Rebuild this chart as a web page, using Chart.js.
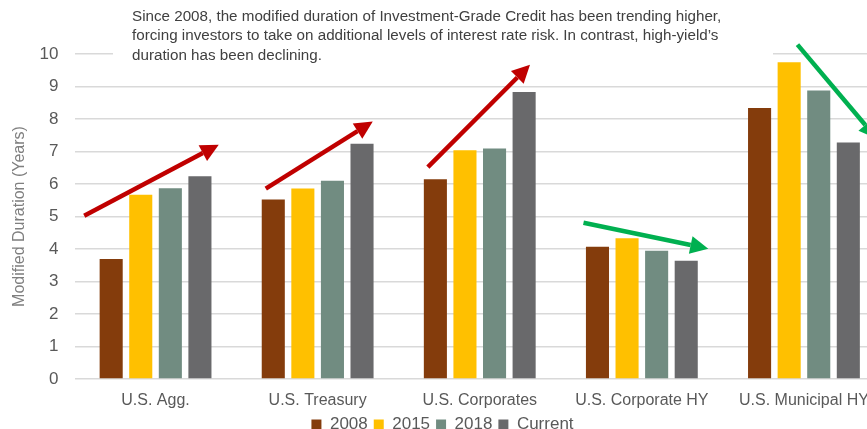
<!DOCTYPE html>
<html>
<head>
<meta charset="utf-8">
<script src="https://cdn.jsdelivr.net/npm/chart.js@4"></script>
<style>
  html, body { margin: 0; padding: 0; background: #fff; overflow: hidden; }
  #wrap { width: 920px; height: 429px; }
</style>
</head>
<body>
<div id="wrap"><canvas id="chart"></canvas></div>
<script>
const categories = ['U.S. Agg.', 'U.S. Treasury', 'U.S. Corporates', 'U.S. Corporate HY', 'U.S. Municipal HY'];
const seriesNames = ['2008', '2015', '2018', 'Current'];
const dur2008 = [3.69, 5.52, 6.15, 4.07, 8.34];
const dur2015 = [5.67, 5.86, 7.04, 4.33, 9.75];
const dur2018 = [5.87, 6.10, 7.09, 3.95, 8.88];
const durCurrent = [6.24, 7.24, 8.83, 3.64, 7.28];
const yTicks = [0, 1, 2, 3, 4, 5, 6, 7, 8, 9, 10];

const noteLines = [
  'Since 2008, the modified duration of Investment-Grade Credit has been trending higher,',
  'forcing investors to take on additional levels of interest rate risk. In contrast, high-yield\u2019s',
  'duration has been declining.'
];

// trend arrows, in (category index, years)
const trendFrom = [[-0.44, 5.02], [0.68, 5.86], [1.68, 6.52], [2.64, 4.81], [3.96, 10.29]];
const trendTo = [[0.39, 7.21], [1.34, 7.92], [2.31, 9.67], [3.41, 4.01], [4.45, 7.39]];
const trendUp = [true, true, true, false, false];

const colors = ['#843c0c', '#ffc000', '#718c81', '#69696b'];
const seriesValues = [dur2008, dur2015, dur2018, durCurrent];

const notePlugin = {
  id: 'note',
  beforeDatasetsDraw(chart) {
    const ctx = chart.ctx;
    ctx.save();
    ctx.fillStyle = '#fff';
    ctx.fillRect(113, 0, 660, 62);
    ctx.fillStyle = '#404040';
    ctx.font = '15.2px "Liberation Sans", Arial, sans-serif';
    ctx.textBaseline = 'middle';
    noteLines.forEach((line, i) => ctx.fillText(line, 132, 16.5 + i * 19.5));
    ctx.restore();
  },
  afterDatasetsDraw(chart) {
    const { ctx, scales: { x, y } } = chart;
    ctx.save();
    trendFrom.forEach((from, i) => {
      const x0 = x.getPixelForValue(from[0]), y0 = y.getPixelForValue(from[1]);
      const x1 = x.getPixelForValue(trendTo[i][0]), y1 = y.getPixelForValue(trendTo[i][1]);
      const ang = Math.atan2(y1 - y0, x1 - x0);
      const head = 18, half = 9;
      const bx = x1 - head * Math.cos(ang), by = y1 - head * Math.sin(ang);
      const c = trendUp[i] ? '#c00000' : '#00b050';
      ctx.strokeStyle = c;
      ctx.fillStyle = c;
      ctx.lineWidth = 4.5;
      ctx.beginPath();
      ctx.moveTo(x0, y0);
      ctx.lineTo(bx, by);
      ctx.stroke();
      ctx.beginPath();
      ctx.moveTo(x1, y1);
      ctx.lineTo(bx - half * Math.sin(ang), by + half * Math.cos(ang));
      ctx.lineTo(bx + half * Math.sin(ang), by - half * Math.cos(ang));
      ctx.closePath();
      ctx.fill();
    });
    ctx.restore();
  }
};

new Chart(document.getElementById('chart'), {
  type: 'bar',
  data: {
    labels: categories,
    datasets: seriesNames.map((name, i) => ({
      label: name,
      data: seriesValues[i],
      backgroundColor: colors[i],
      categoryPercentage: 0.73,
      barPercentage: 0.78
    }))
  },
  options: {
    responsive: true,
    maintainAspectRatio: false,
    animation: false,
    layout: { padding: { top: 54, right: 35, bottom: -14, left: 0 } },
    plugins: {
      legend: {
        position: 'bottom',
        labels: {
          boxWidth: 10,
          boxHeight: 10,
          padding: 6,
          color: '#595959',
          font: { size: 17, family: '"Liberation Sans", Arial, sans-serif' }
        }
      },
      tooltip: { enabled: false }
    },
    scales: {
      x: {
        afterFit(scale) { scale.height = 31; },
        grid: { display: false, drawTicks: false },
        border: { display: false },
        ticks: {
          color: '#595959',
          padding: 12,
          font: { size: 16, family: '"Liberation Sans", Arial, sans-serif' }
        }
      },
      y: {
        min: 0,
        max: 10,
        afterFit(scale) { scale.width = 74.5; },
        afterBuildTicks(scale) { scale.ticks = yTicks.map(v => ({ value: v })); },
        grid: { color: '#d9d9d9', lineWidth: 1.5, drawTicks: false },
        border: { display: false },
        ticks: {
          color: '#595959',
          padding: 16,
          font: { size: 17, family: '"Liberation Sans", Arial, sans-serif' }
        },
        title: {
          display: true,
          text: 'Modified Duration (Years)',
          color: '#7f7f7f',
          padding: { top: 10, bottom: 0 },
          font: { size: 16, family: '"Liberation Sans", Arial, sans-serif' }
        }
      }
    }
  },
  plugins: [notePlugin]
});
</script>
</body>
</html>
